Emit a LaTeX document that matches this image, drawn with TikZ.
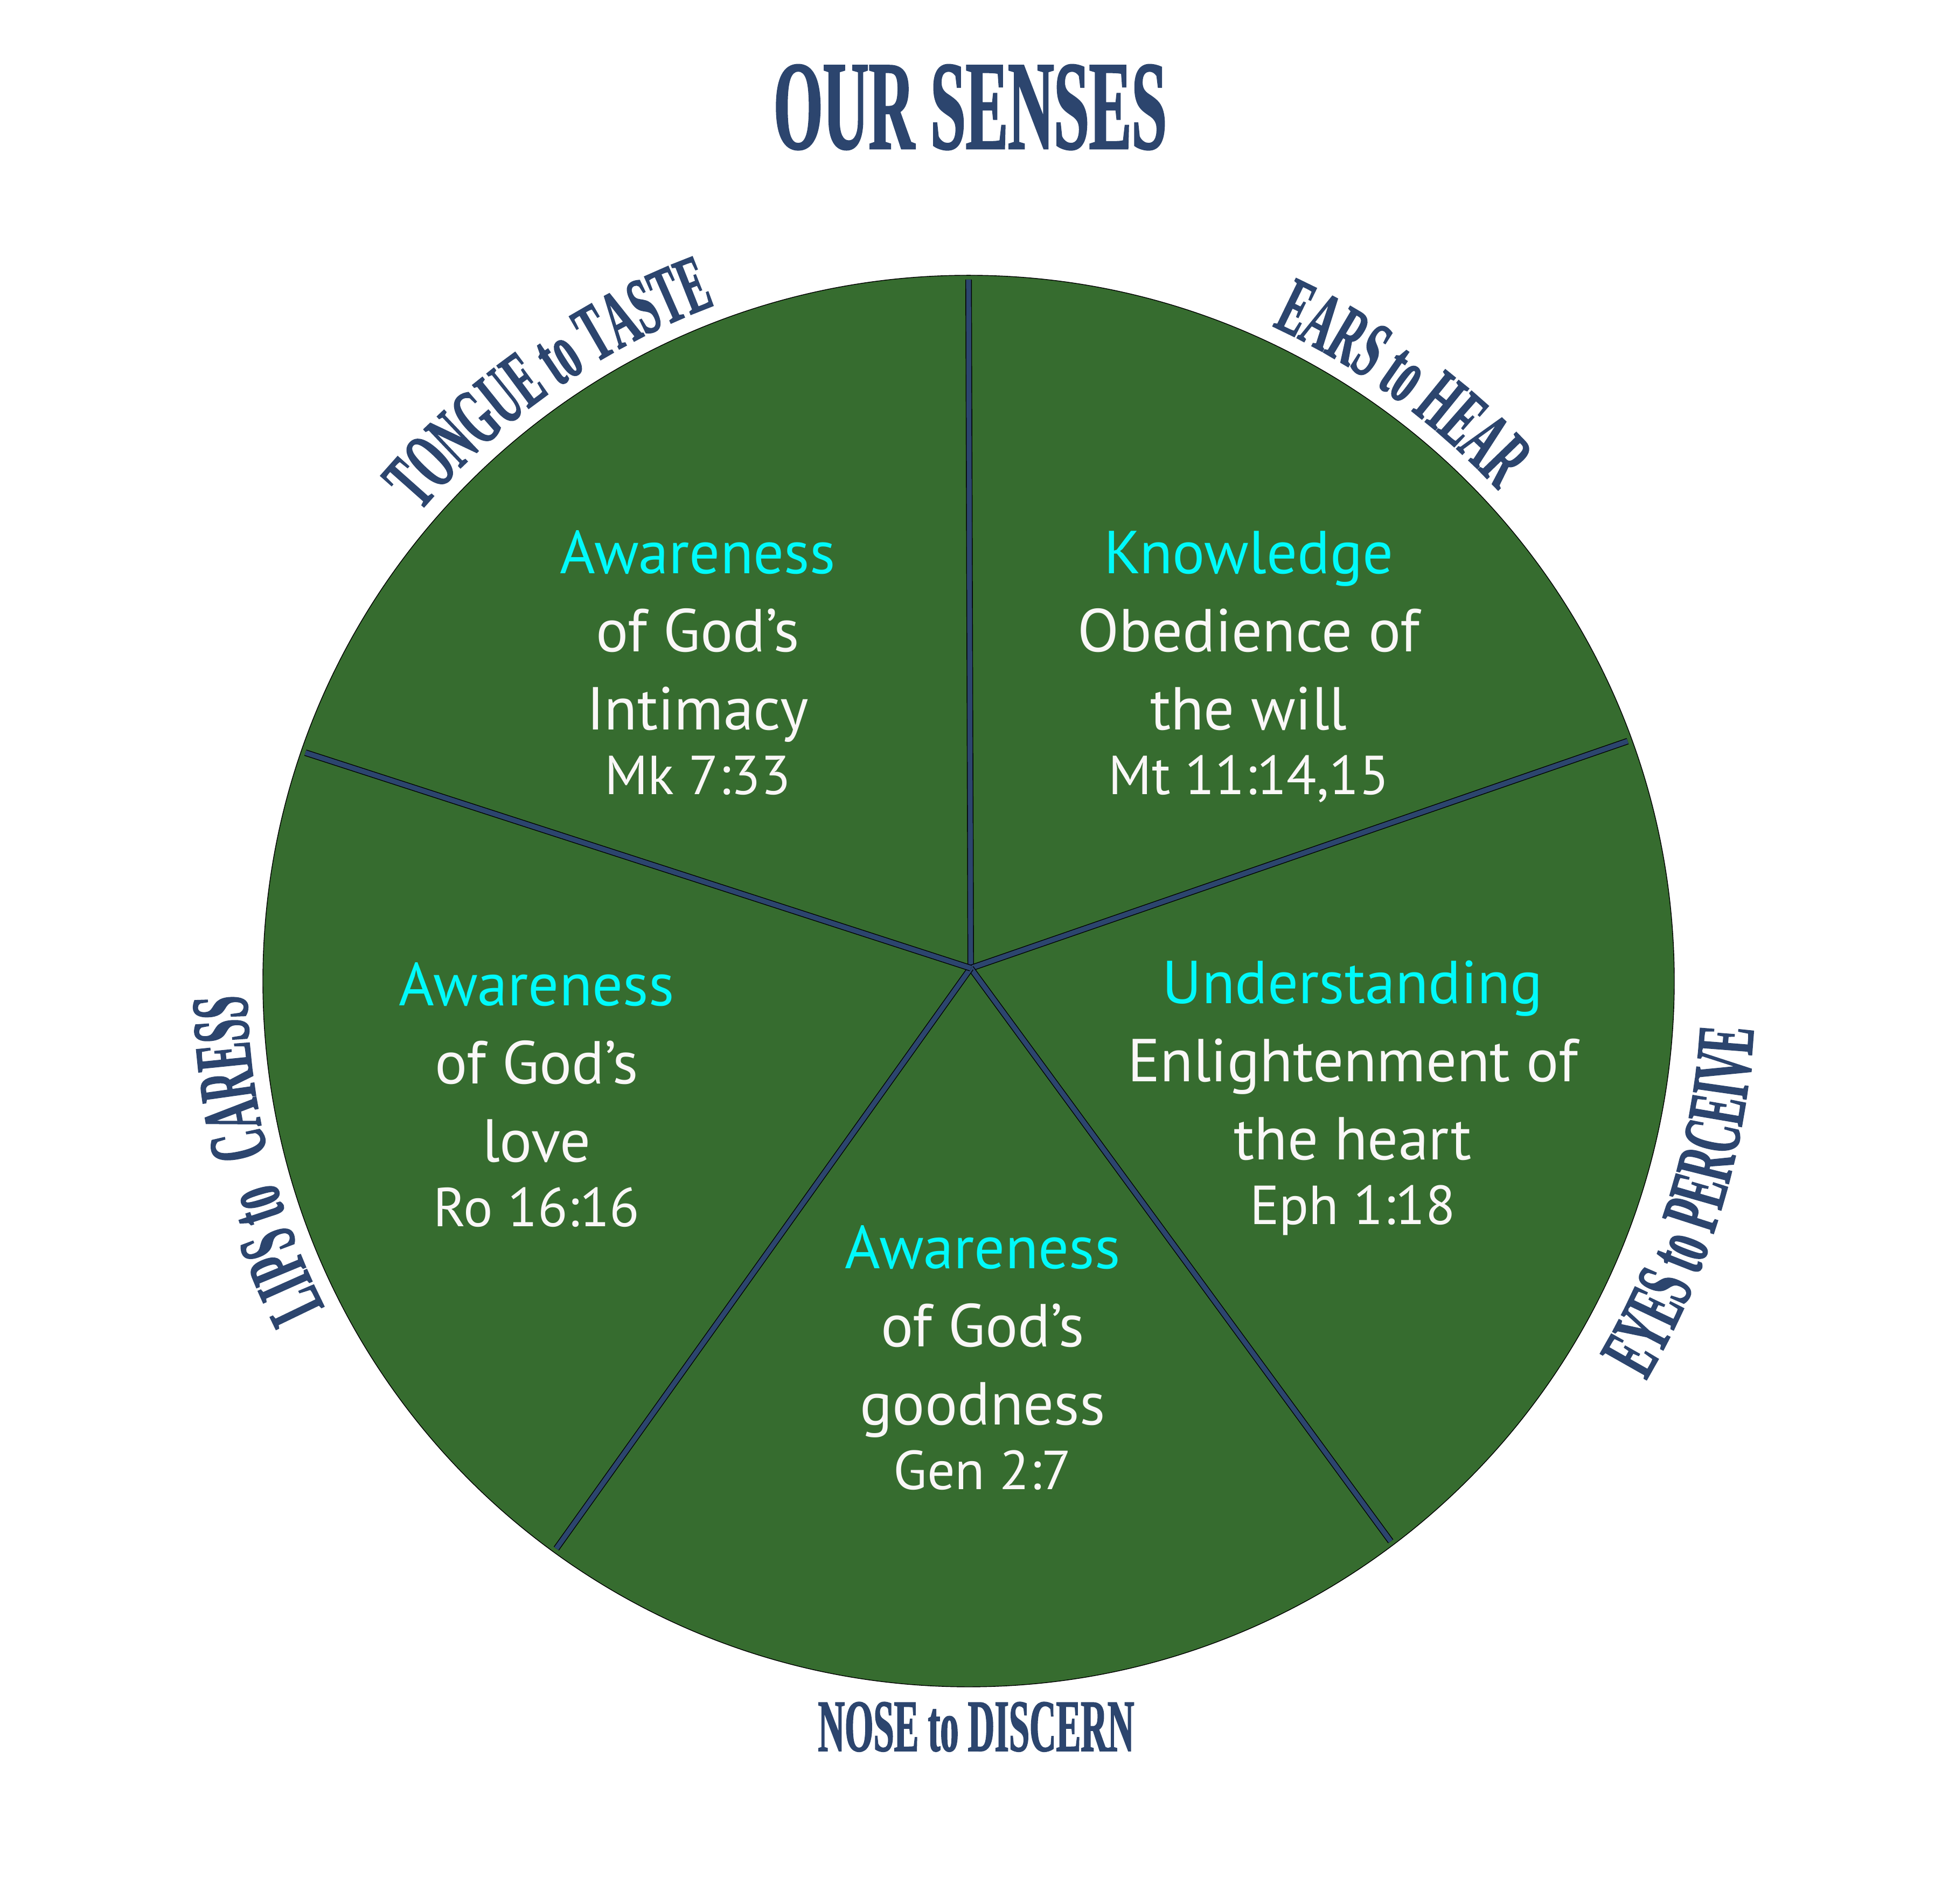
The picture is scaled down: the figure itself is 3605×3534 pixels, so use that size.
\documentclass[tikz,border=0pt]{standalone}
\usepackage{fontspec}
\usetikzlibrary{decorations.text}
\newfontfamily\condfont{Liberation Serif}[FakeStretch=0.5,FakeBold=1.2]
\newfontfamily\handfont{PT Sans}
\definecolor{sgreen}{HTML}{366C2F}
\definecolor{snavy}{HTML}{2C456E}
\definecolor{scyan}{HTML}{00FAFA}
\definecolor{swhite}{HTML}{FAF7F7}
\newcommand\labfnt{\condfont\bfseries\fontsize{43pt}{43pt}\selectfont}
\tikzset{
  titletext/.style={anchor=base, text=snavy, font=\condfont\bfseries\fontsize{67pt}{67pt}\selectfont},
  senselabel/.style={anchor=base, text=snavy, font=\condfont\bfseries\fontsize{39pt}{39pt}\selectfont},
  headline/.style={anchor=base, text=scyan, inner sep=0pt, font=\handfont\fontsize{32pt}{32pt}\selectfont},
  bodyline/.style={anchor=base, text=swhite, inner sep=0pt, font=\handfont\fontsize{32pt}{32pt}\selectfont},
  refline/.style={anchor=base, text=swhite, inner sep=0pt, font=\handfont\fontsize{29pt}{29pt}\selectfont},
  spoke/.style={draw=black, line width=0.4pt, double=snavy, double distance=2.6pt},
  arclabel/.style={decorate, decoration={text along path, text={|\labfnt|#1}, text align=center, text color=snavy}}
}
\begin{document}
\begin{tikzpicture}[x=0.01cm,y=0.01cm]
\fill[white] (0,0) rectangle (3605,3534);
\useasboundingbox (0,0) rectangle (3605,3534);
\coordinate (c) at (1798,1713);
\coordinate (hub) at (1802,1737);
\fill[sgreen] (c) circle[radius=1310];
\draw[black, line width=0.4pt] (c) circle[radius=1310];
\coordinate (e1) at ([shift={(90:1302)}]c);
\coordinate (e2) at ([shift={(20:1302)}]c);
\coordinate (e3) at ([shift={(-53:1302)}]c);
\coordinate (e4) at ([shift={(-126:1302)}]c);
\coordinate (e5) at ([shift={(161:1302)}]c);
\draw[spoke] (hub) -- (e1);
\draw[spoke] (hub) -- (e2);
\draw[spoke] (hub) -- (e3);
\draw[spoke] (hub) -- (e4);
\draw[spoke] (hub) -- (e5);

\node[titletext] (title) at (1801,3258) {OUR SENSES};

% curved sense labels
\path[arclabel={TONGUE to TASTE}] ([shift={(155:1340)}]c) arc[start angle=155, end angle=95, radius=1340];
\path[arclabel={EARS to HEAR}] ([shift={(84:1340)}]c) arc[start angle=84, end angle=24, radius=1340];
\path[arclabel={EYES to PERCEIVE}] ([shift={(-47:1460)}]c) arc[start angle=-47, end angle=13, radius=1460];
\path[arclabel={LIPS to}] ([shift={(216.5:1340)}]c) arc[start angle=216.5, end angle=186.5, radius=1340];
\path[arclabel={CARESS}] ([shift={(202.5:1340)}]c) arc[start angle=202.5, end angle=172.5, radius=1340];
\node[senselabel] (nose) at (1812,284) {NOSE to DISCERN};

% tongue sector
\node[headline] (t1) at (1295,2469) {Awareness};
\node[bodyline] (t2) at (1295,2324) {of God’s};
\node[bodyline] (t3) at (1295,2179) {Intimacy};
\node[refline]  (t4) at (1295,2059) {Mk 7:33};
% ears sector
\node[headline] (a1) at (2318,2469) {Knowledge};
\node[bodyline] (a2) at (2318,2324) {Obedience of};
\node[bodyline] (a3) at (2318,2179) {the will};
\node[refline]  (a4) at (2318,2059) {Mt 11:14,15};
% eyes sector
\node[headline] (y1) at (2511,1671) {Understanding};
\node[bodyline] (y2) at (2511,1526) {Enlightenment of};
\node[bodyline] (y3) at (2511,1381) {the heart};
\node[refline]  (y4) at (2511,1261) {Eph 1:18};
% nose sector
\node[headline] (n1) at (1824,1179) {Awareness};
\node[bodyline] (n2) at (1824,1034) {of God’s};
\node[bodyline] (n3) at (1824,889) {goodness};
\node[refline]  (n4) at (1824,769) {Gen 2:7};
% lips sector
\node[headline] (l1) at (996,1667) {Awareness};
\node[bodyline] (l2) at (996,1522) {of God’s};
\node[bodyline] (l3) at (996,1377) {love};
\node[refline]  (l4) at (996,1257) {Ro 16:16};
\end{tikzpicture}
\end{document}
